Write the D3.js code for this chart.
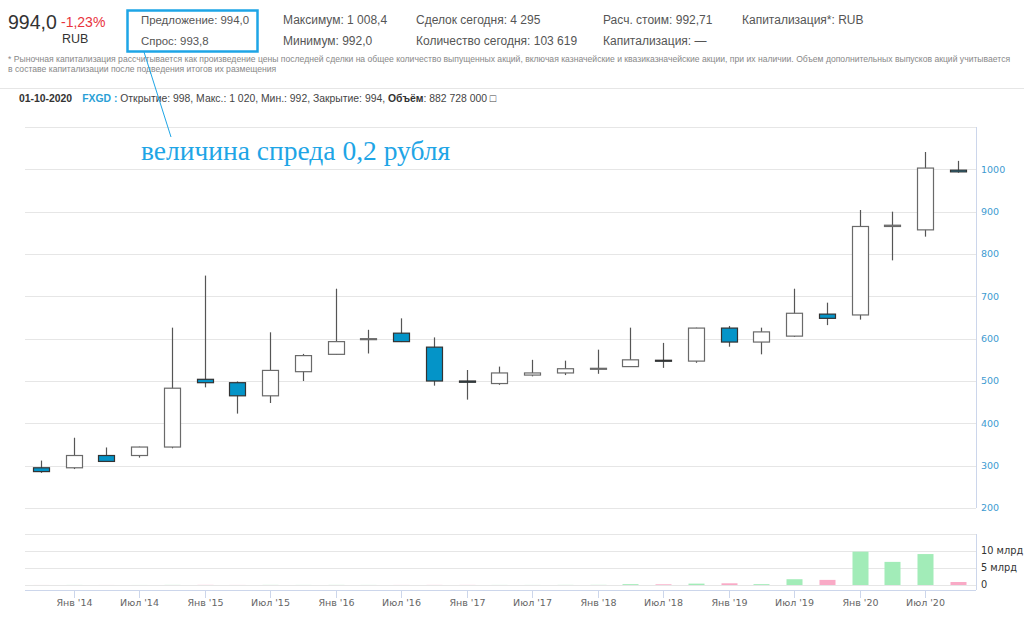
<!DOCTYPE html>
<html><head><meta charset="utf-8">
<script src="https://cdn.jsdelivr.net/npm/d3@7"></script>
<style>body{margin:0;background:#fff}svg{display:block}</style>
</head><body>
<script>
// ---- data ----
const dates = ["2013-10","2014-01","2014-04","2014-07","2014-10","2015-01","2015-04","2015-07","2015-10",
  "2016-01","2016-04","2016-07","2016-10","2017-01","2017-04","2017-07","2017-10","2018-01","2018-04",
  "2018-07","2018-10","2019-01","2019-04","2019-07","2019-10","2020-01","2020-04","2020-07","2020-10"];
const openV  = [295,295,324,324,344,504,496,465,522,563,600,613,580,500,494,514,519,530,534,549,547,625,592,606,658,656,865,857,998];
const highV  = [312,366,343,345,626,749,499,615,564,718,621,648,603,526,534,550,548,574,626,590,626,630,626,718,685,904,900,1041,1020];
const lowV   = [283,292,309,319,341,485,423,448,500,562,565,592,489,456,491,511,514,517,533,531,543,581,563,604,632,645,785,841,992];
const closeV = [286,324,310,344,483,496,465,525,560,593,600,593,500,497,519,519,529,530,550,547,625,592,616,660,648,865,868,1003,994];
const volumeBn = [0.01,0.02,0.01,0.01,0.03,0.04,0.02,0.03,0.02,0.03,0.02,0.02,0.03,0.03,0.02,0.02,0.03,0.04,
  0.25,0.2,0.4,0.5,0.25,1.7,1.5,9.8,6.8,9.1,0.88];
const priceTicks = [200,300,400,500,600,700,800,900,1000];
const priceGrid = [200,300,400,500,600,700,800,900,1000,1100];
const volTicks = [0,5,10];
const volTickLabels = ["0","5 млрд","10 млрд"];
const xTickDates = ["2014-01","2014-07","2015-01","2015-07","2016-01","2016-07","2017-01","2017-07","2018-01",
  "2018-07","2019-01","2019-07","2020-01","2020-07"];
const xTickLabels = ["Янв '14","Июл '14","Янв '15","Июл '15","Янв '16","Июл '16","Янв '17","Июл '17","Янв '18",
  "Июл '18","Янв '19","Июл '19","Янв '20","Июл '20"];

const W=1024,H=621;
const svg=d3.select("body").append("svg").attr("width",W).attr("height",H);
svg.append("rect").attr("width",W).attr("height",H).attr("fill","#fff");
const pd = s => { const [y,m]=s.split("-").map(Number); return new Date(y,m-1,1); };

const left=25,right=976;
const x=d3.scaleTime().domain([pd("2014-01"),pd("2020-07")]).range([74,925]);
const y=d3.scaleLinear().domain([200,1100]).range([508,127]);
const yv=d3.scaleLinear().domain([0,15]).range([585,534]);

const sans="'Liberation Sans', Arial, sans-serif";
const axisFont="'DejaVu Sans', Verdana, sans-serif";
const blue="#1ea5e6";

// ---- header ----
const hdr=svg.append("g").attr("font-family",sans);
hdr.append("text").attr("x",8).attr("y",29).attr("font-size",19.5).attr("fill","#333").text("994,0");
hdr.append("text").attr("x",61).attr("y",27).attr("font-size",14).attr("fill","#e8333c").text("-1,23%");
hdr.append("text").attr("x",62).attr("y",43).attr("font-size",12.5).attr("fill","#333").text("RUB");
const row=(xx,yy,t,fs)=>hdr.append("text").attr("x",xx).attr("y",yy).attr("font-size",fs||12).attr("fill","#555").text(t);
row(141,24,"Предложение: 994,0",11.4); row(141,45,"Спрос: 993,8",11.4);
row(283,24,"Максимум: 1 008,4"); row(283,45,"Минимум: 992,0");
row(416,24,"Сделок сегодня:  4 295"); row(416,45,"Количество сегодня:  103 619");
row(603,24,"Расч. стоим:  992,71"); row(603,45,"Капитализация:  —");
row(742,24,"Капитализация*: RUB");
hdr.append("text").attr("x",8).attr("y",62).attr("font-size",8.6).attr("fill","#888")
  .text("* Рыночная капитализация рассчитывается как произведение цены последней сделки на общее количество выпущенных акций, включая казначейские и квазиказначейские акции, при их наличии. Объем дополнительных выпусков акций учитывается");
hdr.append("text").attr("x",8).attr("y",72).attr("font-size",8.6).attr("fill","#888")
  .text("в составе капитализации после подведения итогов их размещения");
svg.append("line").attr("x1",0).attr("x2",1024).attr("y1",88.5).attr("y2",88.5).attr("stroke","#e6e6e6");
const info=svg.append("text").attr("x",19).attr("y",102).attr("font-family",sans).attr("font-size",10.4).attr("fill","#444");
info.append("tspan").attr("font-weight","bold").attr("fill","#333").text("01-10-2020");
info.append("tspan").attr("dx",10).attr("font-weight","bold").attr("fill","#2a9fd6").text("FXGD :");
info.append("tspan").text(" Открытие: 998, Макс.: 1 020, Мин.: 992, Закрытие: 994, ");
info.append("tspan").attr("font-weight","bold").attr("fill","#333").text("Объём");
info.append("tspan").text(": 882 728 000 □");

// ---- price grid & axis ----
svg.append("g").selectAll("line").data(priceGrid).join("line")
  .attr("x1",left).attr("x2",right).attr("y1",d=>Math.round(y(d))+0.5).attr("y2",d=>Math.round(y(d))+0.5)
  .attr("stroke","#e6e6e6");
svg.append("line").attr("x1",right+0.5).attr("x2",right+0.5).attr("y1",y(1100)).attr("y2",y(200)).attr("stroke","#ccd6eb");
svg.append("g").selectAll("text").data(priceTicks).join("text")
  .attr("x",right+5).attr("y",d=>y(d)).attr("dy","0.35em").attr("font-family",axisFont).attr("font-size",9.5)
  .attr("fill","#3d9ad1").text(d=>d);

// ---- volume grid & axis ----
svg.append("g").selectAll("line").data([0,5,10,15]).join("line")
  .attr("x1",left).attr("x2",right).attr("y1",d=>Math.round(yv(d))+0.5).attr("y2",d=>Math.round(yv(d))+0.5)
  .attr("stroke","#e6e6e6");
svg.append("line").attr("x1",right+0.5).attr("x2",right+0.5).attr("y1",yv(15)).attr("y2",590).attr("stroke","#ccd6eb");
svg.append("g").selectAll("text").data(volTicks).join("text")
  .attr("x",right+5).attr("y",d=>yv(d)).attr("dy","0.35em").attr("font-family",axisFont).attr("font-size",9.8)
  .attr("fill","#333").text((d,i)=>volTickLabels[i]);

// x axis
svg.append("line").attr("x1",left).attr("x2",right).attr("y1",590.5).attr("y2",590.5).attr("stroke","#ccd6eb");
const xt=svg.append("g").selectAll("g").data(xTickDates).join("g")
  .attr("transform",d=>`translate(${Math.round(x(pd(d)))+0.5},0)`);
xt.append("line").attr("y1",590).attr("y2",598).attr("stroke","#ccd6eb");
xt.append("text").attr("y",606).attr("text-anchor","middle").attr("font-family",axisFont).attr("font-size",9.5)
  .attr("fill","#666").text((d,i)=>xTickLabels[i]);

// ---- candles ----
const bw=16;
const cg=svg.append("g");
dates.forEach((d,i)=>{
  const cx=Math.round(x(pd(d)))+0.5;
  const up=closeV[i]>=openV[i];
  cg.append("line").attr("x1",cx).attr("x2",cx).attr("y1",y(highV[i])).attr("y2",y(lowV[i]))
    .attr("stroke","#555").attr("stroke-width",1.2);
  const top=y(Math.max(openV[i],closeV[i])), bot=y(Math.min(openV[i],closeV[i]));
  cg.append("rect").attr("x",cx-bw/2).attr("y",top).attr("width",bw).attr("height",Math.max(bot-top,1))
    .attr("fill",up?"#fff":"#0494c8").attr("stroke",up?"#6a6a6a":"#333").attr("stroke-width",1.2);
  const vt=yv(volumeBn[i]);
  cg.append("rect").attr("x",cx-bw/2).attr("y",vt).attr("width",bw).attr("height",yv(0)-vt)
    .attr("fill",up?"#a2ecb8":"#f9aac6");
});

// ---- annotation ----
svg.append("rect").attr("x",127.5).attr("y",10.5).attr("width",130).attr("height",41)
  .attr("fill","none").attr("stroke",blue).attr("stroke-width",2.5);
svg.append("line").attr("x1",144).attr("y1",52).attr("x2",171).attr("y2",137).attr("stroke",blue).attr("stroke-width",1);
svg.append("text").attr("x",141).attr("y",160).attr("font-family","'Liberation Serif', 'Times New Roman', serif")
  .attr("font-size",27.5).attr("fill",blue).text("величина спреда 0,2 рубля");
</script>
</body></html>
